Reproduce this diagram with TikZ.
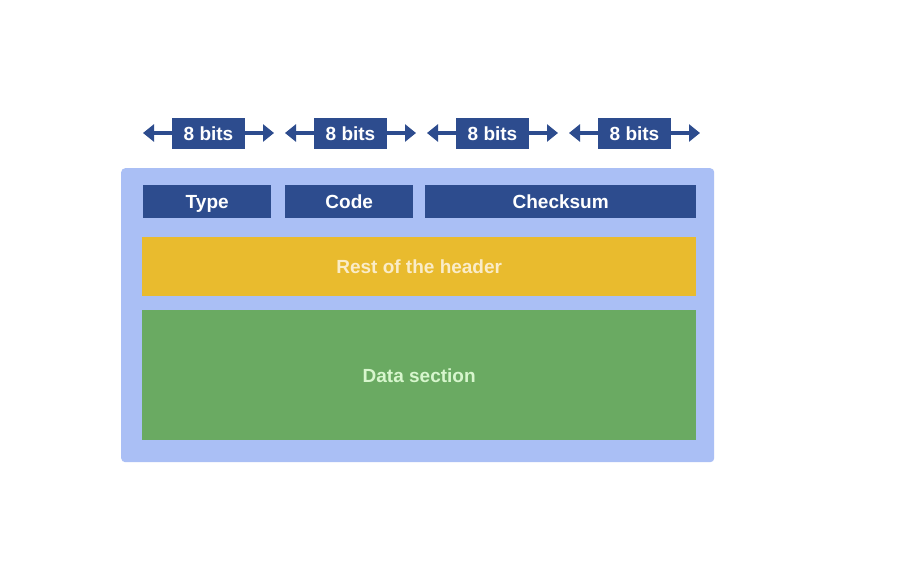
\documentclass[tikz,border=0pt]{standalone}
\usepackage{fontspec}
\setsansfont{Liberation Sans}
\usetikzlibrary{positioning,arrows.meta}
\definecolor{pktback}{RGB}{170,191,245}
\definecolor{pktblue}{RGB}{45,76,142}
\definecolor{pktyellow}{RGB}{233,187,46}
\definecolor{pktgreen}{RGB}{106,170,98}
\definecolor{hdrtext}{RGB}{250,236,200}
\definecolor{datatext}{RGB}{215,246,205}

\begin{document}
\begin{tikzpicture}[x=1pt, y=-1pt, every node/.style={font=\sffamily\bfseries\fontsize{19}{22}\selectfont, text height=16pt, text depth=2pt}]
  \tikzset{
    field/.style={fill=pktblue, text=white, inner sep=0pt, anchor=north west, minimum height=33pt},
    bitsbox/.style={fill=pktblue, text=white, inner sep=0pt, minimum width=73pt, minimum height=31pt},
    bitsarrow/.style={pktblue, line width=4pt, -{Triangle[width=17pt, length=11pt]}}
  }
  \useasboundingbox (0,0) rectangle (916,586);
  \fill[white] (0,0) rectangle (916,586);

  % packet outline and its sections
  \node[fill=pktback, rounded corners=4pt, anchor=north west, minimum width=593pt, minimum height=294pt, inner sep=0pt] (pkt) at (121,168) {};
  \node[field, minimum width=128pt] (type) at (143,185) {Type};
  \node[field, minimum width=128pt] (code) at (285,185) {Code};
  \node[field, minimum width=271pt] (csum) at (425,185) {Checksum};
  \node[field, fill=pktyellow, text=hdrtext, minimum width=554pt, minimum height=59pt] (rest) at (142,237) {Rest of the header};
  \node[field, fill=pktgreen, text=datatext, minimum width=554pt, minimum height=130pt] (data) at (142,310) {Data section};

  % 8 bits width markers
  \foreach \i/\x in {1/143, 2/285, 3/427, 4/569} {
    \coordinate (L\i) at (\x, 133);
    \coordinate (R\i) at (\x+131, 133);
    \node[bitsbox] (B\i) at (\x+65.5, 133) {8 bits};
    \draw[bitsarrow] (B\i.west) -- (L\i);
    \draw[bitsarrow] (B\i.east) -- (R\i);
  }
\end{tikzpicture}
\end{document}
